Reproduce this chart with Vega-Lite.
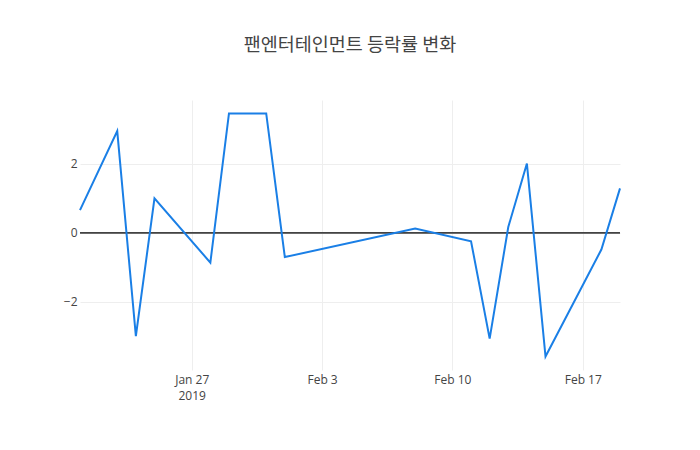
{
  "$schema": "https://vega.github.io/schema/vega-lite/v6.json",
  "width": 540,
  "height": 270,
  "autosize": {"type": "none"},
  "padding": {"left": 80, "top": 100, "right": 80, "bottom": 80},
  "background": "white",
  "title": {
    "text": "팬엔터테인먼트 등락률 변화",
    "font": "Noto Sans CJK KR",
    "fontSize": 18.5,
    "fontWeight": "normal",
    "color": "#444444",
    "anchor": "middle",
    "frame": "group",
    "offset": 46
  },
  "config": {
    "view": {"stroke": null},
    "axis": {
      "labelFont": "Open Sans",
      "labelFontSize": 12,
      "labelColor": "#444444",
      "domain": false,
      "ticks": false,
      "gridColor": "#eeeeee",
      "gridWidth": 1,
      "title": null
    }
  },
  "data": {
    "values": [
      {"date": "2019-01-21", "rate": 0.65},
      {"date": "2019-01-23", "rate": 2.94},
      {"date": "2019-01-24", "rate": -3.0},
      {"date": "2019-01-25", "rate": 0.99},
      {"date": "2019-01-28", "rate": -0.87},
      {"date": "2019-01-29", "rate": 3.45},
      {"date": "2019-01-31", "rate": 3.45},
      {"date": "2019-02-01", "rate": -0.71},
      {"date": "2019-02-08", "rate": 0.12},
      {"date": "2019-02-11", "rate": -0.25},
      {"date": "2019-02-12", "rate": -3.07},
      {"date": "2019-02-13", "rate": 0.16},
      {"date": "2019-02-14", "rate": 2.0},
      {"date": "2019-02-15", "rate": -3.59},
      {"date": "2019-02-18", "rate": -0.49},
      {"date": "2019-02-19", "rate": 1.28}
    ]
  },
  "encoding": {
    "x": {
      "field": "date",
      "type": "temporal",
      "scale": {"type": "utc", "nice": false},
      "axis": {
        "values": [
          {"year": 2019, "month": 1, "date": 27, "utc": true},
          {"year": 2019, "month": 2, "date": 3, "utc": true},
          {"year": 2019, "month": 2, "date": 10, "utc": true},
          {"year": 2019, "month": 2, "date": 17, "utc": true}
        ],
        "labelExpr": "utcFormat(datum.value, '%m') == '01' ? [utcFormat(datum.value, '%b %-d'), '2019'] : utcFormat(datum.value, '%b %-d')",
        "labelPadding": 4,
        "labelLineHeight": 16,
        "labelBaseline": "top",
        "grid": true
      }
    }
  },
  "layer": [
    {
      "mark": {"type": "rule", "color": "#444444", "strokeWidth": 1},
      "encoding": {
        "x": null,
        "y": {"datum": 0, "type": "quantitative"}
      }
    },
    {
      "mark": {"type": "line", "color": "#1a7fe6", "strokeWidth": 2, "strokeJoin": "miter"},
      "encoding": {
        "y": {
          "field": "rate",
          "type": "quantitative",
          "scale": {"domain": [-3.98, 3.84], "nice": false, "zero": false},
          "axis": {
            "values": [-2, 0, 2],
            "labelExpr": "replace(format(datum.value, 'd'), '-', '−')",
            "labelPadding": 3,
            "grid": true
          }
        }
      }
    }
  ]
}
